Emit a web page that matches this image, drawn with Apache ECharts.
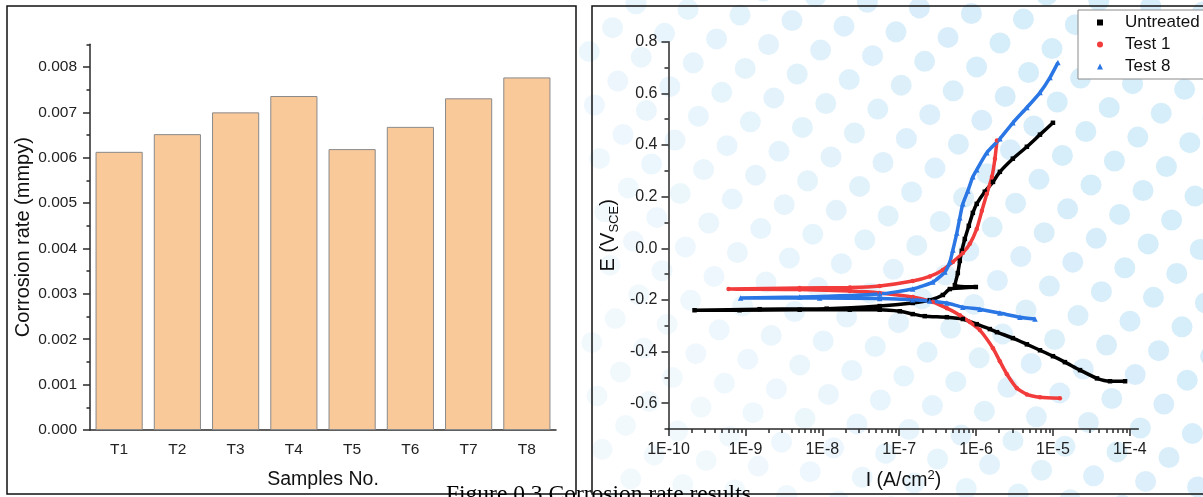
<!DOCTYPE html>
<html>
<head>
<meta charset="utf-8">
<script src="https://cdn.jsdelivr.net/npm/echarts@6/dist/echarts.min.js"></script>
<style>
  html, body { margin: 0; padding: 0; background: #ffffff; }
  #chart { width: 1203px; height: 497px; }
</style>
</head>
<body>
<div id="chart"></div>
<script>
// ---- Corrosion rate per sample (bar chart) ----
const samples = ['T1', 'T2', 'T3', 'T4', 'T5', 'T6', 'T7', 'T8'];
const corrosionRate = [0.00613, 0.00652, 0.00700, 0.00736, 0.00619, 0.00668, 0.00731, 0.00777];
const rateTicks = [0, 0.001, 0.002, 0.003, 0.004, 0.005, 0.006, 0.007, 0.008];
const rateMinorTicks = [0.0005, 0.0015, 0.0025, 0.0035, 0.0045, 0.0055, 0.0065, 0.0075, 0.0085];

// ---- Polarisation curves: current density I (A/cm2) and potential E (V vs SCE) ----
const untreatedI = [8.67e-5, 5.52e-5, 3.74e-5, 2.25e-5, 1.43e-5, 1.00e-5, 6.78e-6, 4.58e-6, 3.01e-6, 1.87e-6,
  1.51e-6, 1.02e-6, 6.73e-7, 4.17e-7, 2.15e-7, 1.50e-7, 1.02e-7, 5.58e-8, 2.28e-8, 5.08e-9, 8.4e-10, 2.18e-10,
  1.53e-9, 1.14e-8, 5.58e-8, 1.50e-7, 2.50e-7, 3.70e-7, 4.56e-7, 9.93e-7, 5.30e-7, 5.79e-7, 6.15e-7, 6.53e-7,
  7.14e-7, 8.05e-7, 9.08e-7, 1.02e-6, 1.30e-6, 1.66e-6, 2.04e-6, 3.01e-6, 4.58e-6, 6.78e-6, 1.00e-5];
const untreatedE = [-0.515, -0.515, -0.504, -0.472, -0.441, -0.418, -0.395, -0.372, -0.348, -0.325,
  -0.313, -0.294, -0.274, -0.267, -0.263, -0.255, -0.244, -0.238, -0.238, -0.238, -0.240, -0.240,
  -0.236, -0.234, -0.224, -0.212, -0.201, -0.181, -0.158, -0.150, -0.143, -0.096, -0.049, -0.010,
  0.036, 0.087, 0.137, 0.172, 0.219, 0.257, 0.296, 0.347, 0.393, 0.440, 0.486];

const test1I = [1.23e-5, 6.78e-6, 4.58e-6, 3.40e-6, 2.52e-6, 2.04e-6, 1.66e-6, 1.12e-6, 8.30e-7, 6.15e-7,
  4.17e-7, 2.74e-7, 1.50e-7, 5.58e-8, 2.28e-8, 5.08e-9, 6.04e-10,
  5.08e-9, 2.28e-8, 5.58e-8, 1.50e-7, 2.50e-7, 3.70e-7, 4.99e-7, 6.73e-7, 8.30e-7, 1.02e-6, 1.19e-6,
  1.38e-6, 1.61e-6, 1.76e-6, 1.87e-6];
const test1E = [-0.581, -0.577, -0.566, -0.542, -0.488, -0.438, -0.387, -0.317, -0.286, -0.259,
  -0.232, -0.208, -0.189, -0.173, -0.166, -0.160, -0.158,
  -0.154, -0.152, -0.146, -0.127, -0.109, -0.084, -0.053, -0.018, 0.017, 0.075, 0.145,
  0.211, 0.277, 0.347, 0.417];

const test8I = [5.84e-6, 3.72e-6, 2.04e-6, 1.12e-6, 6.73e-7, 4.17e-7, 2.50e-7, 1.50e-7, 5.58e-8, 9.25e-9, 8.66e-10,
  5.08e-9, 5.58e-8, 1.50e-7, 2.74e-7, 3.93e-7, 4.56e-7, 4.99e-7, 5.62e-7, 6.15e-7, 6.73e-7, 7.82e-7,
  9.08e-7, 1.02e-6, 1.38e-6, 2.04e-6, 3.01e-6, 4.58e-6, 6.78e-6, 9.14e-6, 1.16e-5];
const test8E = [-0.274, -0.267, -0.251, -0.236, -0.228, -0.212, -0.204, -0.199, -0.195, -0.193, -0.193,
  -0.189, -0.177, -0.158, -0.131, -0.092, -0.053, -0.007, 0.059, 0.118, 0.172, 0.222,
  0.277, 0.304, 0.370, 0.424, 0.486, 0.545, 0.603, 0.661, 0.719];

// Axis ticks of the polarisation plot (current axis holds log10 of I)
const currentDecades = [-10, -9, -8, -7, -6, -5, -4];
const potentialTicks = [-0.6, -0.4, -0.2, 0, 0.2, 0.4, 0.6, 0.8];
const potentialMinorTicks = [-0.7, -0.5, -0.3, -0.1, 0.1, 0.3, 0.5, 0.7];

const currentMinorTicks = [];
for (let d = -10; d <= -5; d++) {
  for (let k = 2; k <= 9; k++) currentMinorTicks.push(d + Math.log10(k));
}

const toLogPairs = (I, E) => I.map((v, k) => [Math.log10(v), E[k]]);

const FONT = 'Liberation Sans';
const INK = '#2a2a2a';

// Decorative dotted backdrop behind the right-hand panel
const backdrop = [];
for (let i = -14; i <= 18; i++) {
  for (let j = -4; j <= 26; j++) {
    const cx = 740 + i * 52.0 - j * 23.4;
    const cy = 15 + i * 5.6 + j * 23.9;
    if (cx < 588 || cx > 1216 || cy < -12 || cy > 512) continue;
    const f = Math.min(1, Math.max(0, (cx - 620) / 520 + (300 - cy) / 900));
    backdrop.push({
      type: 'circle', silent: true, z: -10,
      shape: { cx: cx, cy: cy, r: 10.5 },
      style: { fill: 'rgb(210,235,249)', opacity: 0.28 + 0.62 * f }
    });
  }
}

const axisLineStyle = { color: INK, width: 1.5 };

const chart = echarts.init(document.getElementById('chart'), null, { renderer: 'canvas' });
chart.setOption({
  animation: false,
  backgroundColor: '#ffffff',
  textStyle: { fontFamily: FONT },
  grid: [
    { left: 90, right: 647, top: 44.3, bottom: 67 },
    { left: 668.5, right: 64.7, top: 41.7, bottom: 68 }
  ],
  legend: {
    orient: 'vertical',
    left: 1078, top: 10,
    padding: [4, 60, 4, 19],
    itemWidth: 6, itemHeight: 6, itemGap: 5,
    backgroundColor: '#ffffff',
    borderColor: '#8a8a8a', borderWidth: 1,
    textStyle: { fontFamily: FONT, fontSize: 17, color: '#111', padding: [0, 0, 0, 17] },
    data: [
      { name: 'Untreated', icon: 'rect' },
      { name: 'Test 1', icon: 'circle' },
      { name: 'Test 8', icon: 'triangle' }
    ]
  },
  xAxis: [
    {
      type: 'category', gridIndex: 0, data: samples, position: 'bottom',
      name: 'Samples No.', nameLocation: 'middle', nameGap: 40,
      nameTextStyle: { fontFamily: FONT, fontSize: 19.5, color: '#111' },
      axisLine: { onZero: false, lineStyle: axisLineStyle },
      axisTick: { alignWithLabel: true, length: 6, lineStyle: axisLineStyle },
      axisLabel: { fontFamily: FONT, fontSize: 15.5, color: '#222', margin: 12 },
      splitLine: { show: false }
    },
    {
      type: 'category', gridIndex: 0, data: samples, position: 'bottom',
      axisLine: { show: false, onZero: false },
      axisTick: { length: 3.5, lineStyle: axisLineStyle },
      axisLabel: { show: false },
      splitLine: { show: false }
    },
    {
      type: 'value', gridIndex: 1, min: -10, max: -3.89, position: 'bottom',
      name: '{a|I (A/cm}{s|2}{a|)}', nameLocation: 'middle', nameGap: 40,
      nameTextStyle: {
        rich: {
          a: { fontFamily: FONT, fontSize: 19.5, color: '#111', lineHeight: 24 },
          s: { fontFamily: FONT, fontSize: 13, color: '#111', lineHeight: 13, verticalAlign: 'top' }
        }
      },
      axisLine: { onZero: false, lineStyle: axisLineStyle },
      axisTick: { customValues: currentDecades, length: 7, lineStyle: axisLineStyle },
      axisLabel: {
        customValues: currentDecades, fontFamily: FONT, fontSize: 16, color: '#222', margin: 13,
        formatter: v => '1E' + Math.round(v)
      },
      splitLine: { show: false }
    },
    {
      type: 'value', gridIndex: 1, min: -10, max: -3.89, position: 'bottom',
      axisLine: { show: false, onZero: false },
      axisTick: { customValues: currentMinorTicks, length: 4, lineStyle: axisLineStyle },
      axisLabel: { show: false },
      splitLine: { show: false }
    }
  ],
  yAxis: [
    {
      type: 'value', gridIndex: 0, min: 0, max: 0.0085, position: 'left',
      name: 'Corrosion rate (mmpy)', nameLocation: 'middle', nameGap: 57,
      nameTextStyle: { fontFamily: FONT, fontSize: 20, color: '#111' },
      axisLine: { show: true, onZero: false, lineStyle: axisLineStyle },
      axisTick: { show: true, customValues: rateTicks, length: 7, lineStyle: axisLineStyle },
      axisLabel: {
        customValues: rateTicks, fontFamily: FONT, fontSize: 15.5, color: '#222', margin: 13,
        formatter: v => v.toFixed(3)
      },
      splitLine: { show: false }
    },
    {
      type: 'value', gridIndex: 0, min: 0, max: 0.0085, position: 'left',
      axisLine: { show: false, onZero: false },
      axisTick: { show: true, customValues: rateMinorTicks, length: 3.5, lineStyle: axisLineStyle },
      axisLabel: { show: false },
      splitLine: { show: false }
    },
    {
      type: 'value', gridIndex: 1, min: -0.7, max: 0.8, position: 'left',
      name: '{a|E (V}{b|SCE}{a|)}', nameLocation: 'middle', nameGap: 48,
      nameTextStyle: {
        rich: {
          a: { fontFamily: FONT, fontSize: 20, color: '#111', lineHeight: 24 },
          b: { fontFamily: FONT, fontSize: 13, color: '#111', lineHeight: 13, verticalAlign: 'bottom' }
        }
      },
      axisLine: { show: true, onZero: false, lineStyle: axisLineStyle },
      axisTick: { show: true, customValues: potentialTicks, length: 7, lineStyle: axisLineStyle },
      axisLabel: {
        customValues: potentialTicks, fontFamily: FONT, fontSize: 16, color: '#222', margin: 11,
        formatter: v => v.toFixed(1)
      },
      splitLine: { show: false }
    },
    {
      type: 'value', gridIndex: 1, min: -0.7, max: 0.8, position: 'left',
      axisLine: { show: false, onZero: false },
      axisTick: { show: true, customValues: potentialMinorTicks, length: 4, lineStyle: axisLineStyle },
      axisLabel: { show: false },
      splitLine: { show: false }
    }
  ],
  series: [
    {
      name: 'Corrosion rate', type: 'bar', xAxisIndex: 0, yAxisIndex: 0,
      data: corrosionRate, barWidth: '81%',
      itemStyle: { color: '#fac99a', borderColor: '#8a8a8a', borderWidth: 1 }
    },
    {
      name: 'Untreated', type: 'line', xAxisIndex: 2, yAxisIndex: 2,
      data: toLogPairs(untreatedI, untreatedE),
      symbol: 'rect', symbolSize: 4.5, showSymbol: true, smooth: 0.2,
      color: '#000000',
      lineStyle: { color: '#000000', width: 3.5 }
    },
    {
      name: 'Test 1', type: 'line', xAxisIndex: 2, yAxisIndex: 2,
      data: toLogPairs(test1I, test1E),
      symbol: 'circle', symbolSize: 4.5, showSymbol: true, smooth: 0.2,
      color: '#f23b3b',
      lineStyle: { color: '#f23b3b', width: 3.5 }
    },
    {
      name: 'Test 8', type: 'line', xAxisIndex: 2, yAxisIndex: 2,
      data: toLogPairs(test8I, test8E),
      symbol: 'triangle', symbolSize: 5.5, showSymbol: true, smooth: 0.2,
      color: '#2a76e4',
      lineStyle: { color: '#2a76e4', width: 3.5 }
    }
  ],
  graphic: backdrop.concat([
    {
      type: 'rect', silent: true, z: 50,
      shape: { x: 7, y: 6, width: 569, height: 488 },
      style: { fill: 'none', stroke: '#111', lineWidth: 1.5 }
    },
    {
      type: 'rect', silent: true, z: 50,
      shape: { x: 592, y: 6, width: 660, height: 488 },
      style: { fill: 'none', stroke: '#111', lineWidth: 1.5 }
    },
    {
      type: 'text', silent: true, z: 60, x: 446, y: 495,
      style: {
        text: 'Figure 0.3 Corrosion rate results',
        font: '23.5px "Liberation Serif"', fill: '#000',
        align: 'left', verticalAlign: 'middle'
      }
    }
  ])
});
</script>
</body>
</html>
